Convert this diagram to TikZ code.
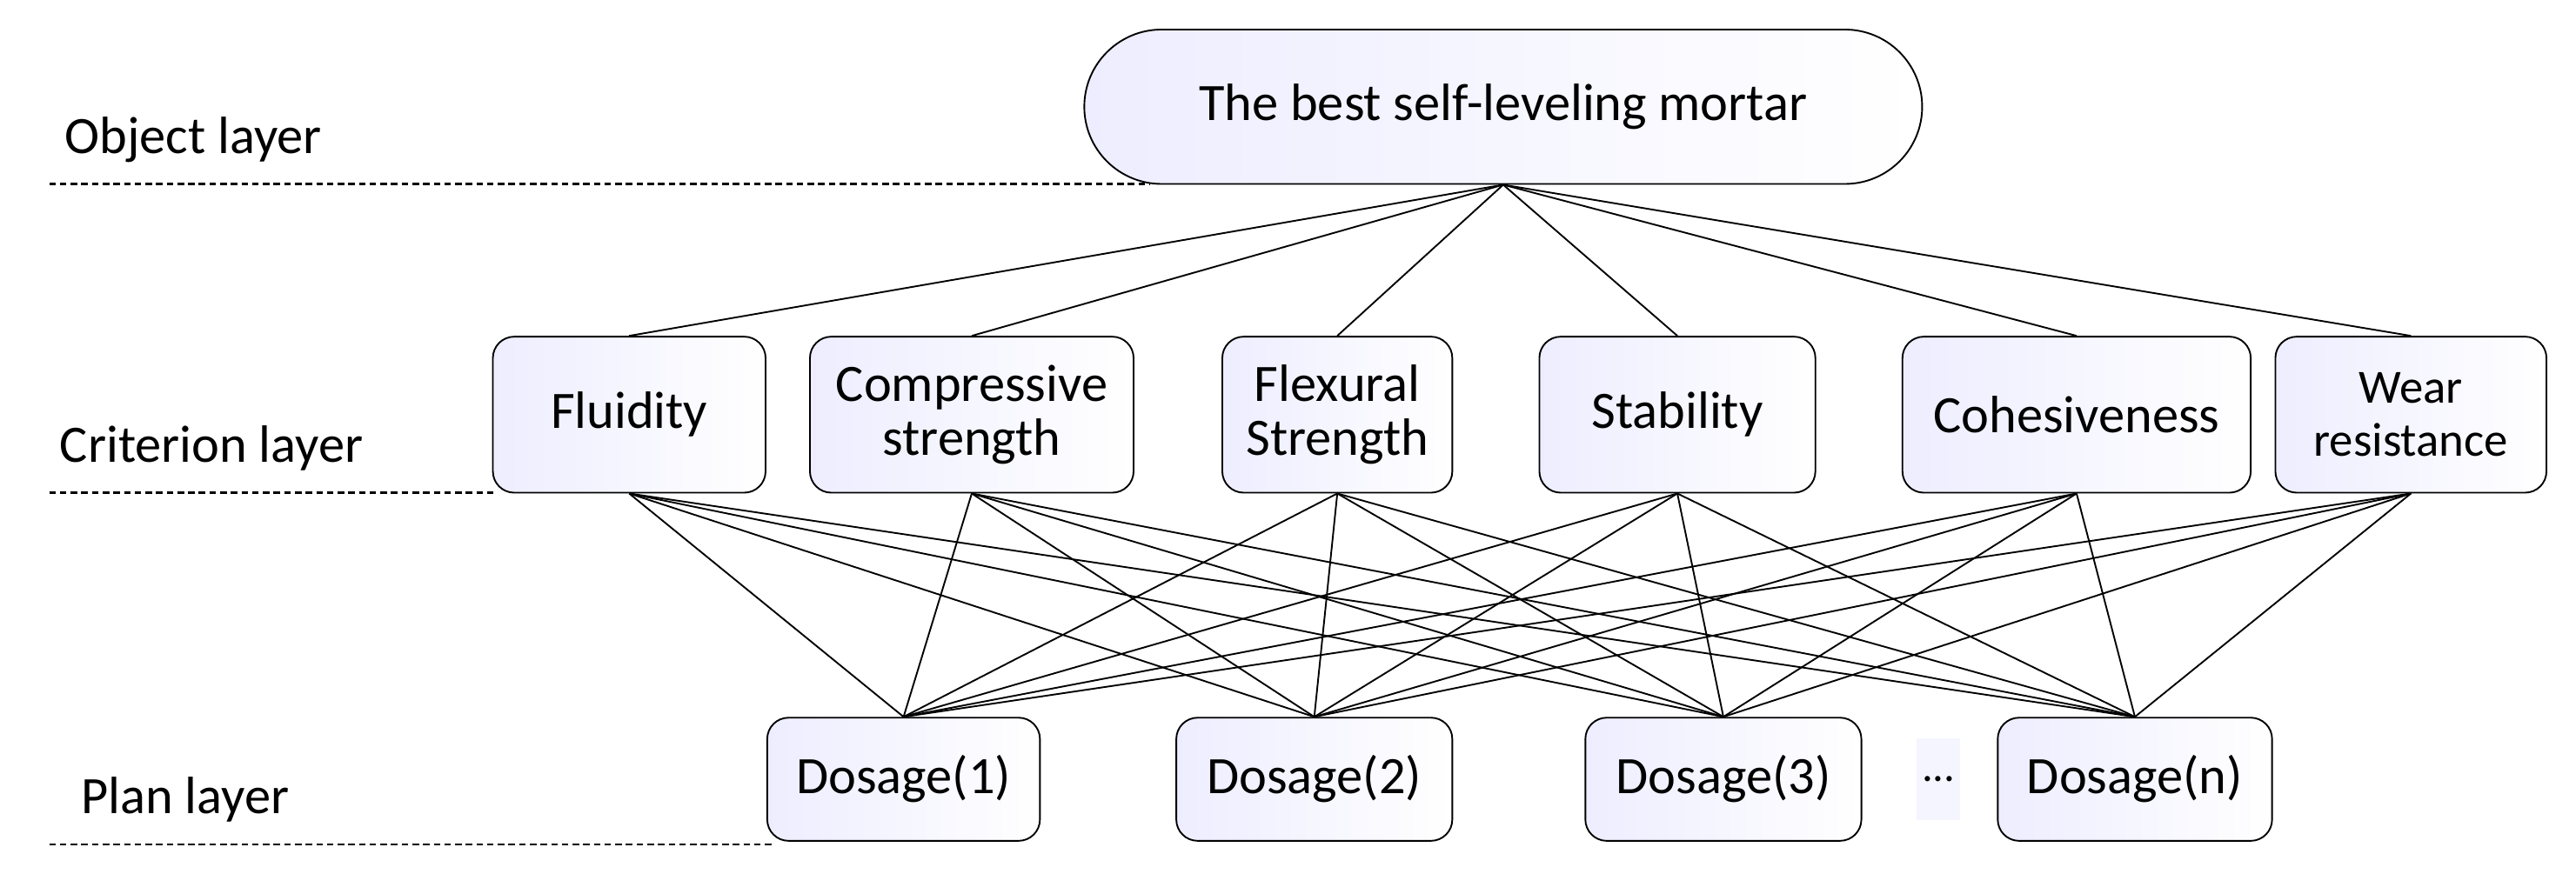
\documentclass[tikz,border=0pt]{standalone}
\usepackage{fontspec}
\setmainfont{Carlito}
\begin{document}
\begin{tikzpicture}[x=1pt,y=-1pt,
  box/.style={draw=black,line width=1pt,rounded corners=13pt,inner sep=0pt,align=center,
    left color=blue!7!white,right color=white,font=\fontsize{32}{33}\selectfont},
  lay/.style={anchor=west,font=\fontsize{32}{34}\selectfont},
  dl/.style={line width=1.1pt,dash pattern=on 4pt off 2.5pt},
  ln/.style={line width=1pt}]
\useasboundingbox (0,0) rectangle (1568,532);
\node[box,rounded corners=47pt,minimum width=510pt,minimum height=94pt] (top) at (915,65) {The best self-leveling mortar};
\node[box,minimum width=166pt,minimum height=95pt] (c1) at (383,252.5) {Fluidity};
\node[box,minimum width=197pt,minimum height=95pt] (c2) at (591.5,252.5) {Compressive\\strength};
\node[box,minimum width=140pt,minimum height=95pt] (c3) at (814,252.5) {Flexural\\Strength};
\node[box,minimum width=168pt,minimum height=95pt] (c4) at (1021,252.5) {Stability};
\node[box,minimum width=212pt,minimum height=95pt] (c5) at (1264,252.5) {Cohesiveness};
\node[box,minimum width=165pt,minimum height=95pt,font=\fontsize{29}{32}\selectfont] (c6) at (1467.5,252.5) {Wear\\resistance};
\node[box,minimum width=166pt,minimum height=75pt] (d1) at (550,474.5) {Dosage(1)};
\node[box,minimum width=168pt,minimum height=75pt] (d2) at (800,474.5) {Dosage(2)};
\node[box,minimum width=168pt,minimum height=75pt] (d3) at (1049,474.5) {Dosage(3)};
\node[box,minimum width=167pt,minimum height=75pt] (dn) at (1299.5,474.5) {Dosage(n)};
\node[fill=blue!4!white,inner sep=3pt,minimum height=50pt,font=\fontsize{27}{30}\selectfont] (dots) at (1180,474.5) {...};
\node[lay] (lo) at (36,85) {Object layer};
\node[lay] (lc) at (33,273) {Criterion layer};
\node[lay] (lp) at (46,487) {Plan layer};
\coordinate (o1) at (30,112); \coordinate (o2) at (700,112);
\coordinate (k1) at (30,300); \coordinate (k2) at (300,300);
\coordinate (p1) at (30,514); \coordinate (p2) at (470,514);
\draw[dl] (o1) -- (o2);
\draw[dl] (k1) -- (k2);
\draw[dl] (p1) -- (p2);
\foreach \c in {c1,c2,c3,c4,c5,c6}{
  \draw[ln] (top.south) -- (\c.north);
  \foreach \d in {d1,d2,d3,dn}{\draw[ln] (\c.south) -- (\d.north);}
}
\end{tikzpicture}
\end{document}
